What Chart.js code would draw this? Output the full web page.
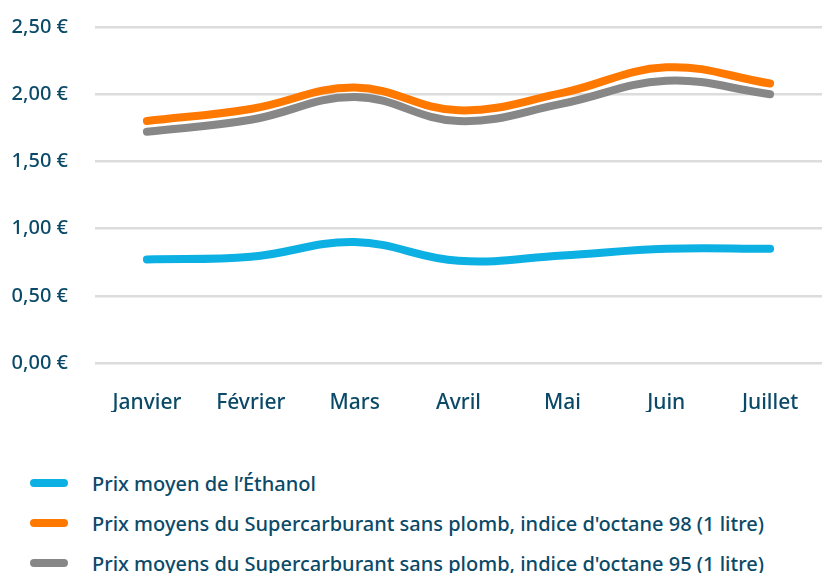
<!DOCTYPE html>
<html>
<head>
<meta charset="utf-8">
<script src="https://cdn.jsdelivr.net/npm/chart.js@4"></script>
<style>
  html, body { margin: 0; padding: 0; background: #fff; }
  body { width: 822px; height: 573px; position: relative; overflow: hidden; font-family: "Noto Sans", sans-serif; }
  #chart { position: absolute; left: 0; top: 0; }
  #legend { position: absolute; left: 30px; top: 463px; }
  .item { display: flex; align-items: center; height: 40px; color: #0a4a68; font-size: 20px; font-weight: 500; }
  .swatch { width: 38px; height: 8px; border-radius: 4px; margin-right: 24px; }
</style>
</head>
<body>
<canvas id="chart" width="822" height="440"></canvas>
<div id="legend"></div>
<script>
// mois
const months = ["Janvier", "Février", "Mars", "Avril", "Mai", "Juin", "Juillet"];

// prix en €
const ethanol = [0.77, 0.79, 0.90, 0.76, 0.80, 0.85, 0.85];
const sp98 = [1.80, 1.89, 2.05, 1.88, 2.01, 2.20, 2.08];
const sp95 = [1.72, 1.81, 1.98, 1.80, 1.93, 2.10, 2.00];

const seriesLabels = [
  "Prix moyen de l’Éthanol",
  "Prix moyens du Supercarburant sans plomb, indice d'octane 98 (1 litre)",
  "Prix moyens du Supercarburant sans plomb, indice d'octane 95 (1 litre)",
];
const seriesColors = ["#0cb0e2", "#ff7800", "#878787"];

const textColor = "#0a4a68";

function euro(v) {
  return v.toFixed(2).replace(".", ",") + " €";
}

const ctx = document.getElementById("chart").getContext("2d");
const chart = new Chart(ctx, {
  type: "line",
  data: {
    labels: months,
    datasets: [ethanol, sp98, sp95].map((values, i) => ({
      label: seriesLabels[i],
      data: values,
      borderColor: seriesColors[i],
      backgroundColor: seriesColors[i],
      borderWidth: 8,
      borderCapStyle: "round",
      tension: 0.4,
      pointRadius: 0,
      fill: false,
    })),
  },
  options: {
    responsive: false,
    animation: false,
    layout: { padding: { top: 27, left: 10, right: 0, bottom: 28 } },
    plugins: {
      legend: { display: false },
      tooltip: { enabled: false },
    },
    scales: {
      x: {
        offset: true,
        grid: { display: false },
        border: { display: false },
        ticks: {
          color: textColor,
          padding: 19,
          font: { family: "Noto Sans", size: 21, weight: "500" },
        },
        afterFit: (scale) => {
          scale.height = 49;
          scale.paddingLeft = 0;
          scale.paddingRight = 0;
        },
      },
      y: {
        min: 0,
        max: 2.5,
        grid: { color: "#dcdcdc", lineWidth: 2.5, drawTicks: false },
        border: { display: false },
        ticks: {
          stepSize: 0.5,
          color: textColor,
          padding: 27,
          font: { family: "Noto Sans", size: 20, weight: "500" },
          callback: (v) => euro(v),
        },
        afterFit: (scale) => {
          scale.width = 85;
          scale.paddingTop = 12;
          scale.paddingBottom = 12;
        },
      },
    },
  },
});

// légende
const legend = document.getElementById("legend");
seriesLabels.forEach((label, i) => {
  const row = document.createElement("div");
  row.className = "item";
  const sw = document.createElement("div");
  sw.className = "swatch";
  sw.style.background = seriesColors[i];
  const txt = document.createElement("span");
  txt.textContent = label;
  row.appendChild(sw);
  row.appendChild(txt);
  legend.appendChild(row);
});
</script>
</body>
</html>
